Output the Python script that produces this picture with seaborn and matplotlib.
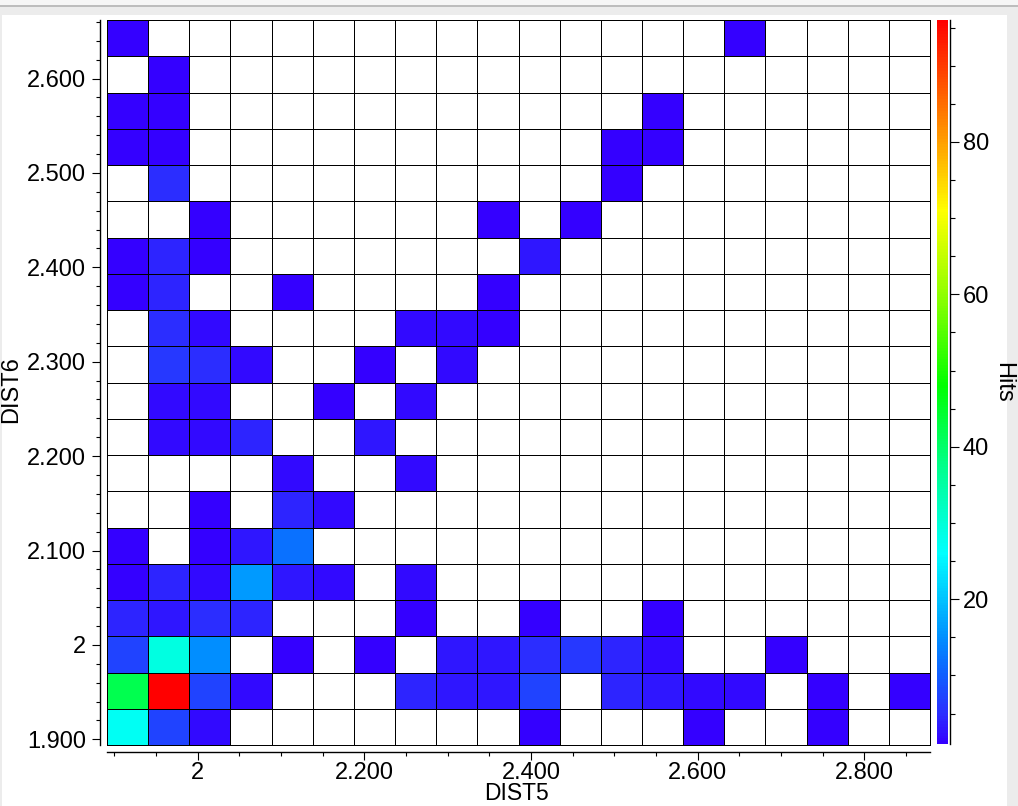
import numpy as np
import seaborn as sns
import matplotlib as mpl
mpl.use("Agg")
import matplotlib.pyplot as plt
from matplotlib.colors import LinearSegmentedColormap
from matplotlib.patches import Rectangle


# axis extents of the histogram (DIST5 across, DIST6 up)
dist5_range = (1.891, 2.879)
dist6_range = (1.894, 2.662)

dist5_ticks = [2.0, 2.2, 2.4, 2.6, 2.8]
dist5_labels = ["2", "2.200", "2.400", "2.600", "2.800"]
dist6_ticks = [1.9, 2.0, 2.1, 2.2, 2.3, 2.4, 2.5, 2.6]
dist6_labels = ["1.900", "2", "2.100", "2.200", "2.300", "2.400", "2.500", "2.600"]
hits_ticks = [20, 40, 60, 80]

# hit counts, top row (largest DIST6) first, 20 bins per row
hits = [
    [1, 0, 0, 0, 0, 0, 0, 0, 0, 0, 0, 0, 0, 0, 0, 1, 0, 0, 0, 0],
    [0, 1, 0, 0, 0, 0, 0, 0, 0, 0, 0, 0, 0, 0, 0, 0, 0, 0, 0, 0],
    [1, 1, 0, 0, 0, 0, 0, 0, 0, 0, 0, 0, 0, 1, 0, 0, 0, 0, 0, 0],
    [1, 1, 0, 0, 0, 0, 0, 0, 0, 0, 0, 0, 1, 1, 0, 0, 0, 0, 0, 0],
    [0, 5, 0, 0, 0, 0, 0, 0, 0, 0, 0, 0, 1, 0, 0, 0, 0, 0, 0, 0],
    [0, 0, 1, 0, 0, 0, 0, 0, 0, 1, 0, 1, 0, 0, 0, 0, 0, 0, 0, 0],
    [1, 4, 1, 0, 0, 0, 0, 0, 0, 0, 3, 0, 0, 0, 0, 0, 0, 0, 0, 0],
    [1, 4, 0, 0, 1, 0, 0, 0, 0, 1, 0, 0, 0, 0, 0, 0, 0, 0, 0, 0],
    [0, 5, 2, 0, 0, 0, 0, 2, 2, 1, 0, 0, 0, 0, 0, 0, 0, 0, 0, 0],
    [0, 6, 5, 2, 0, 0, 1, 0, 2, 0, 0, 0, 0, 0, 0, 0, 0, 0, 0, 0],
    [0, 2, 2, 0, 0, 1, 0, 2, 0, 0, 0, 0, 0, 0, 0, 0, 0, 0, 0, 0],
    [0, 2, 2, 4, 0, 0, 3, 0, 0, 0, 0, 0, 0, 0, 0, 0, 0, 0, 0, 0],
    [0, 0, 0, 0, 2, 0, 0, 2, 0, 0, 0, 0, 0, 0, 0, 0, 0, 0, 0, 0],
    [0, 0, 1, 0, 4, 2, 0, 0, 0, 0, 0, 0, 0, 0, 0, 0, 0, 0, 0, 0],
    [1, 0, 1, 3, 12, 0, 0, 0, 0, 0, 0, 0, 0, 0, 0, 0, 0, 0, 0, 0],
    [1, 4, 2, 16, 3, 2, 0, 2, 0, 0, 0, 0, 0, 0, 0, 0, 0, 0, 0, 0],
    [4, 3, 5, 4, 0, 0, 0, 1, 0, 0, 1, 0, 0, 1, 0, 0, 0, 0, 0, 0],
    [7, 29, 15, 0, 1, 0, 1, 0, 3, 3, 5, 6, 4, 2, 0, 0, 1, 0, 0, 0],
    [42, 96, 7, 2, 0, 0, 0, 4, 3, 3, 7, 0, 4, 3, 2, 2, 0, 1, 0, 1],
    [27, 7, 2, 0, 0, 0, 0, 0, 0, 0, 1, 0, 0, 0, 1, 0, 0, 1, 0, 0],
]

vmin, vmax = 1, 96

plt.rcParams['font.family'] = ['Liberation Sans', 'DejaVu Sans']
plt.rcParams['axes.linewidth'] = 1.0

# rainbow from blue-violet to red, empty bins white
cmap = LinearSegmentedColormap.from_list("hits", [
    (0.000, "#3400ff"),
    (0.042, "#2a30ff"),
    (0.095, "#1060ff"),
    (0.147, "#0090ff"),
    (0.200, "#00c4ff"),
    (0.263, "#00ffff"),
    (0.379, "#00ff90"),
    (0.495, "#00ff00"),
    (0.621, "#90ff00"),
    (0.737, "#ffff00"),
    (0.832, "#ffa000"),
    (0.916, "#ff5000"),
    (1.000, "#ff0000"),
])
cmap.set_under("white")

fig = plt.figure(figsize=(10.18, 8.06), dpi=100, facecolor="#ececec")
fig.patches.append(Rectangle((2/1018, 0), 1005/1018, 791/806, transform=fig.transFigure,
                             facecolor="white", edgecolor="none", zorder=-2))
fig.patches.append(Rectangle((0, 801/806), 1, 5/806, transform=fig.transFigure,
                             facecolor="#f6f6f6", edgecolor="none", zorder=-2))
fig.lines.append(plt.Line2D([0, 1], [800.5/806, 800.5/806], transform=fig.transFigure,
                            color="#b4b4b4", lw=1.2))

ax = fig.add_axes([107/1018, 61/806, 823/1018, 725/806])
cax = fig.add_axes([937/1018, 62/806, 11/1018, 724/806])

sns.heatmap(np.array(hits, dtype=float), ax=ax, cbar_ax=cax, cmap=cmap, vmin=vmin, vmax=vmax,
            linewidths=0.7, linecolor="black")
ax.collections[0].set_clip_on(False)

nx = len(hits[0])
ny = len(hits)


def xpos(v):
    return (v - dist5_range[0]) / (dist5_range[1] - dist5_range[0]) * nx


def ypos(v):
    return (dist6_range[1] - v) / (dist6_range[1] - dist6_range[0]) * ny


ax.set_xticks([xpos(v) for v in dist5_ticks], dist5_labels, rotation=0)
ax.set_xticks([xpos(v) for v in np.arange(1.9, 2.86, 0.05)], minor=True)
ax.set_yticks([ypos(v) for v in dist6_ticks], dist6_labels, rotation=0)
ax.set_yticks([ypos(v) for v in np.arange(1.9, 2.67, 0.02)], minor=True)

ax.tick_params(which="both", bottom=True, left=True, direction="out", width=0.8,
               color="black", labelsize=17)
ax.tick_params(which="major", length=6)
ax.tick_params(which="minor", length=3)
ax.tick_params(axis="x", pad=1.5)
ax.tick_params(axis="y", pad=4)

for side in ["left", "bottom"]:
    ax.spines[side].set_visible(True)
    ax.spines[side].set_position(("outward", 5))
    ax.spines[side].set_linewidth(1.0)
for side in ["top", "right"]:
    ax.spines[side].set_visible(False)

ax.set_xlabel("DIST5", fontsize=16.5, va="bottom")
ax.set_ylabel("DIST6", fontsize=17)
ax.xaxis.set_label_coords(0.498, -0.0825)
ax.yaxis.set_label_coords(-0.103, 0.49)

cbar = ax.collections[0].colorbar
cbar.outline.set_visible(False)
cbar.set_ticks(hits_ticks)
cbar.set_ticks([v for v in range(5, 96, 5) if v not in hits_ticks], minor=True)
cbar.ax.tick_params(which="both", right=True, direction="out", width=0.8, color="black",
                    labelsize=17, pad=3)
cbar.ax.tick_params(which="major", length=6.5)
cbar.ax.tick_params(which="minor", length=3.5)
cbar.ax.spines["right"].set_visible(True)
cbar.ax.spines["right"].set_position(("outward", 1.2))
cbar.ax.spines["right"].set_linewidth(1.0)
cbar.ax.set_ylabel("Hits", fontsize=17, rotation=270, va="center", ha="center")
cbar.ax.yaxis.set_label_coords(6.0, 0.5)

plt.savefig("out.png", dpi=100, facecolor=fig.get_facecolor())
